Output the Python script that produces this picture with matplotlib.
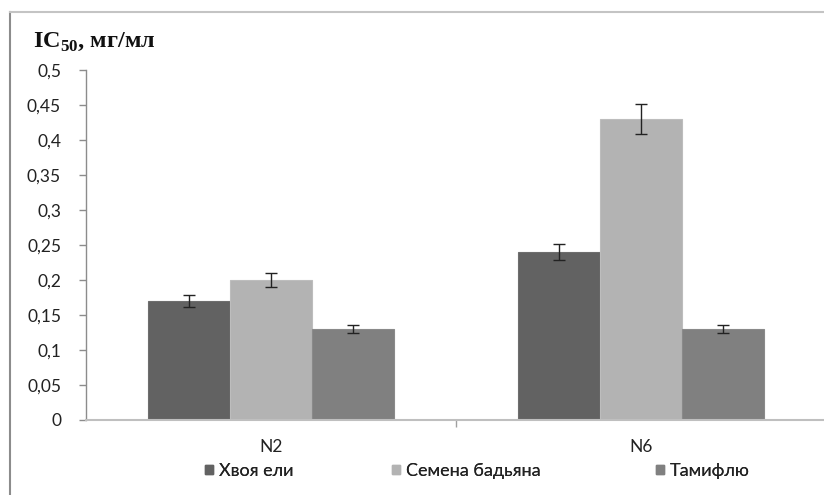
import matplotlib
matplotlib.use("Agg")
import matplotlib.pyplot as plt
import numpy as np
from matplotlib.lines import Line2D
from matplotlib.patches import Patch

categories = ["N2", "N6"]
series_names = ["Хвоя ели", "Семена бадьяна", "Тамифлю"]
values_hvoya = [0.17, 0.24]
values_semena = [0.20, 0.43]
values_tamiflu = [0.13, 0.13]
err_hvoya = [0.009, 0.012]
err_semena = [0.010, 0.022]
err_tamiflu = [0.006, 0.006]
yticks = [0, 0.05, 0.1, 0.15, 0.2, 0.25, 0.3, 0.35, 0.4, 0.45, 0.5]
ytick_labels = ["0", "0,05", "0,1", "0,15", "0,2", "0,25", "0,3", "0,35", "0,4", "0,45", "0,5"]

colors = ["#626262", "#b3b3b3", "#808080"]
edgecolors = ["#6e6e6e", "#bdbdbd", "#8a8a8a"]
font = ["Lato", "DejaVu Sans"]

W, H = 824, 495
fig = plt.figure(figsize=(W / 100, H / 100), dpi=100)
ax = fig.add_axes([86 / W, 1 - 420 / H, 740 / W, 350 / H])

x = np.arange(len(categories))
bw = 0.2225
all_vals = [values_hvoya, values_semena, values_tamiflu]
all_err = [err_hvoya, err_semena, err_tamiflu]
for i, (v, e) in enumerate(zip(all_vals, all_err)):
    pos = x + (i - 1) * bw
    ax.bar(pos, v, width=bw, color=colors[i], edgecolor=edgecolors[i], linewidth=0.8, zorder=2)
    ax.errorbar(pos, v, yerr=e, fmt="none", ecolor="#222222", elinewidth=1.0,
                capsize=4.3, capthick=1.0, zorder=3)

ax.set_xlim(-0.5, 1.5)
ax.set_ylim(0, 0.5)
ax.set_yticks(yticks)
ax.set_yticklabels(ytick_labels, fontfamily=font, fontsize=12.5, color="#222222")
ax.set_xticks(x)
ax.set_xticklabels(categories, fontfamily=font, fontsize=12.5, color="#222222")
ax.set_xticks([0.5], minor=True)
ax.tick_params(axis="x", which="major", length=0, pad=14)
ax.tick_params(axis="x", which="minor", length=5, color="#a0a0a0", width=1)
ax.tick_params(axis="y", length=5, color="#8c8c8c", width=1, pad=13)

for s in ["top", "right"]:
    ax.spines[s].set_visible(False)
ax.spines["left"].set_color("#8c8c8c")
ax.spines["left"].set_linewidth(1)
ax.spines["bottom"].set_color("#bfbfbf")
ax.spines["bottom"].set_linewidth(1.5)

# title
fig.text(33 / W, 1 - 42 / H, r"IC$_{\mathregular{50}}$, мг/мл", fontfamily=["Liberation Serif", "DejaVu Serif"],
         fontweight="bold", fontsize=17.5, va="center", ha="left", color="#111111")

# legend: one entry per legend, placed like the reference
legend_x = [205, 392, 656]
for name, c, lx in zip(series_names, colors, legend_x):
    leg = fig.legend([Patch(facecolor=c, edgecolor=c)], [name], loc="center left",
                     bbox_to_anchor=(lx / W, 1 - 471 / H), frameon=False,
                     prop={"family": font, "size": 13}, borderpad=0, borderaxespad=0,
                     handlelength=0.42, handleheight=0.42, handletextpad=0.35)
    for t in leg.get_texts():
        t.set_color("#222222")
    fig.add_artist(leg)

# outer chart border
fig.add_artist(Line2D([10 / W, 10 / W], [1 - 12 / H, 0], transform=fig.transFigure,
                      color="#8c8c8c", linewidth=1.5))
fig.add_artist(Line2D([10 / W, 1], [1 - 12 / H, 1 - 12 / H], transform=fig.transFigure,
                      color="#c4c4c4", linewidth=1.5))

fig.savefig("out.png", dpi=100)
